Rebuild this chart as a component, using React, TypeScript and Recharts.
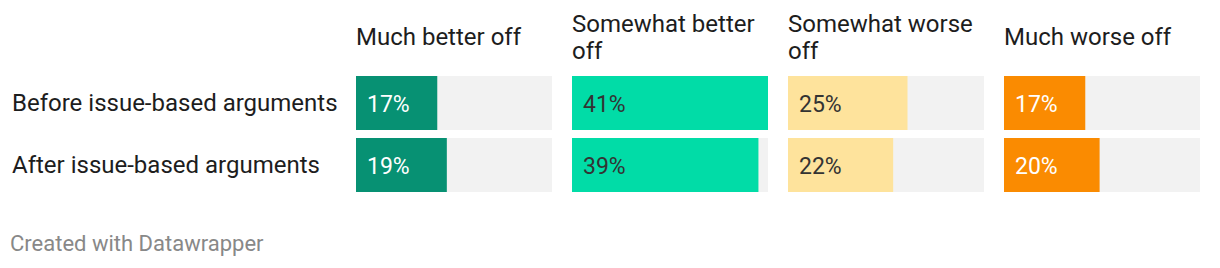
import React from 'react';
import { BarChart, Bar, XAxis, YAxis, LabelList } from 'recharts';

const rowLabels = ['Before issue-based arguments', 'After issue-based arguments'];
const columnTitles = ['Much better off', 'Somewhat better off', 'Somewhat worse off', 'Much worse off'];
const columnTitleLines = [['Much better off'], ['Somewhat better', 'off'], ['Somewhat worse', 'off'], ['Much worse off']];
const muchBetter = [17, 19];
const somewhatBetter = [41, 39];
const somewhatWorse = [25, 22];
const muchWorse = [17, 20];
const seriesValues = [muchBetter, somewhatBetter, somewhatWorse, muchWorse];
const barColors = ['#079173', '#01dca7', '#fee39c', '#fa8b01'];
const labelColors = ['#ffffff', '#333333', '#333333', '#ffffff'];

const FONT = 'Roboto, "Noto Sans", sans-serif';
const COL_X = [356, 572, 788, 1004];
const COL_W = 196;
const MAX = Math.max(...seriesValues.flat());

function ValueLabel(props: any) {
  const { x, y, height, value, fill } = props;
  return (
    <text
      x={x + 11}
      y={y + height / 2 + 1}
      dominantBaseline="central"
      fontFamily={FONT}
      fontSize={23}
      fill={fill}
    >
      {value}%
    </text>
  );
}

export default function App() {
  return (
    <div
      style={{
        position: 'absolute',
        left: 0,
        top: 0,
        width: 1220,
        height: 268,
        background: '#ffffff',
        fontFamily: FONT,
        color: '#1d1d1d',
      }}
    >
      {rowLabels.map((label, i) => (
        <div
          key={label}
          style={{
            position: 'absolute',
            left: 12,
            top: 76 + i * 62,
            height: 54,
            display: 'flex',
            alignItems: 'center',
            fontSize: 24,
            whiteSpace: 'nowrap',
          }}
        >
          {label}
        </div>
      ))}

      {columnTitles.map((title, c) => {
        const data = rowLabels.map((r, i) => ({ row: r, value: seriesValues[c][i] }));
        return (
          <div key={title}>
            <div
              style={{
                position: 'absolute',
                left: COL_X[c],
                top: 10,
                width: COL_W + 20,
                height: 55,
                display: 'flex',
                flexDirection: 'column',
                justifyContent: 'center',
                fontSize: 24,
                lineHeight: '27px',
                whiteSpace: 'nowrap',
              }}
            >
              {columnTitleLines[c].map((ln) => (
                <div key={ln}>{ln}</div>
              ))}
            </div>
            <div style={{ position: 'absolute', left: COL_X[c], top: 72 }}>
              <BarChart
                width={COL_W}
                height={124}
                data={data}
                layout="vertical"
                margin={{ top: 0, right: 0, bottom: 0, left: 0 }}
              >
                <XAxis type="number" domain={[0, MAX]} hide />
                <YAxis type="category" dataKey="row" hide />
                <Bar
                  dataKey="value"
                  fill={barColors[c]}
                  barSize={54}
                  background={{ fill: '#f2f2f2' }}
                  isAnimationActive={false}
                >
                  <LabelList dataKey="value" content={(p: any) => <ValueLabel {...p} fill={labelColors[c]} />} />
                </Bar>
              </BarChart>
            </div>
          </div>
        );
      })}

      <div
        style={{
          position: 'absolute',
          left: 10,
          top: 231,
          fontSize: 22,
          lineHeight: '26px',
          color: '#888888',
          whiteSpace: 'nowrap',
        }}
      >
        Created with Datawrapper
      </div>
    </div>
  );
}
